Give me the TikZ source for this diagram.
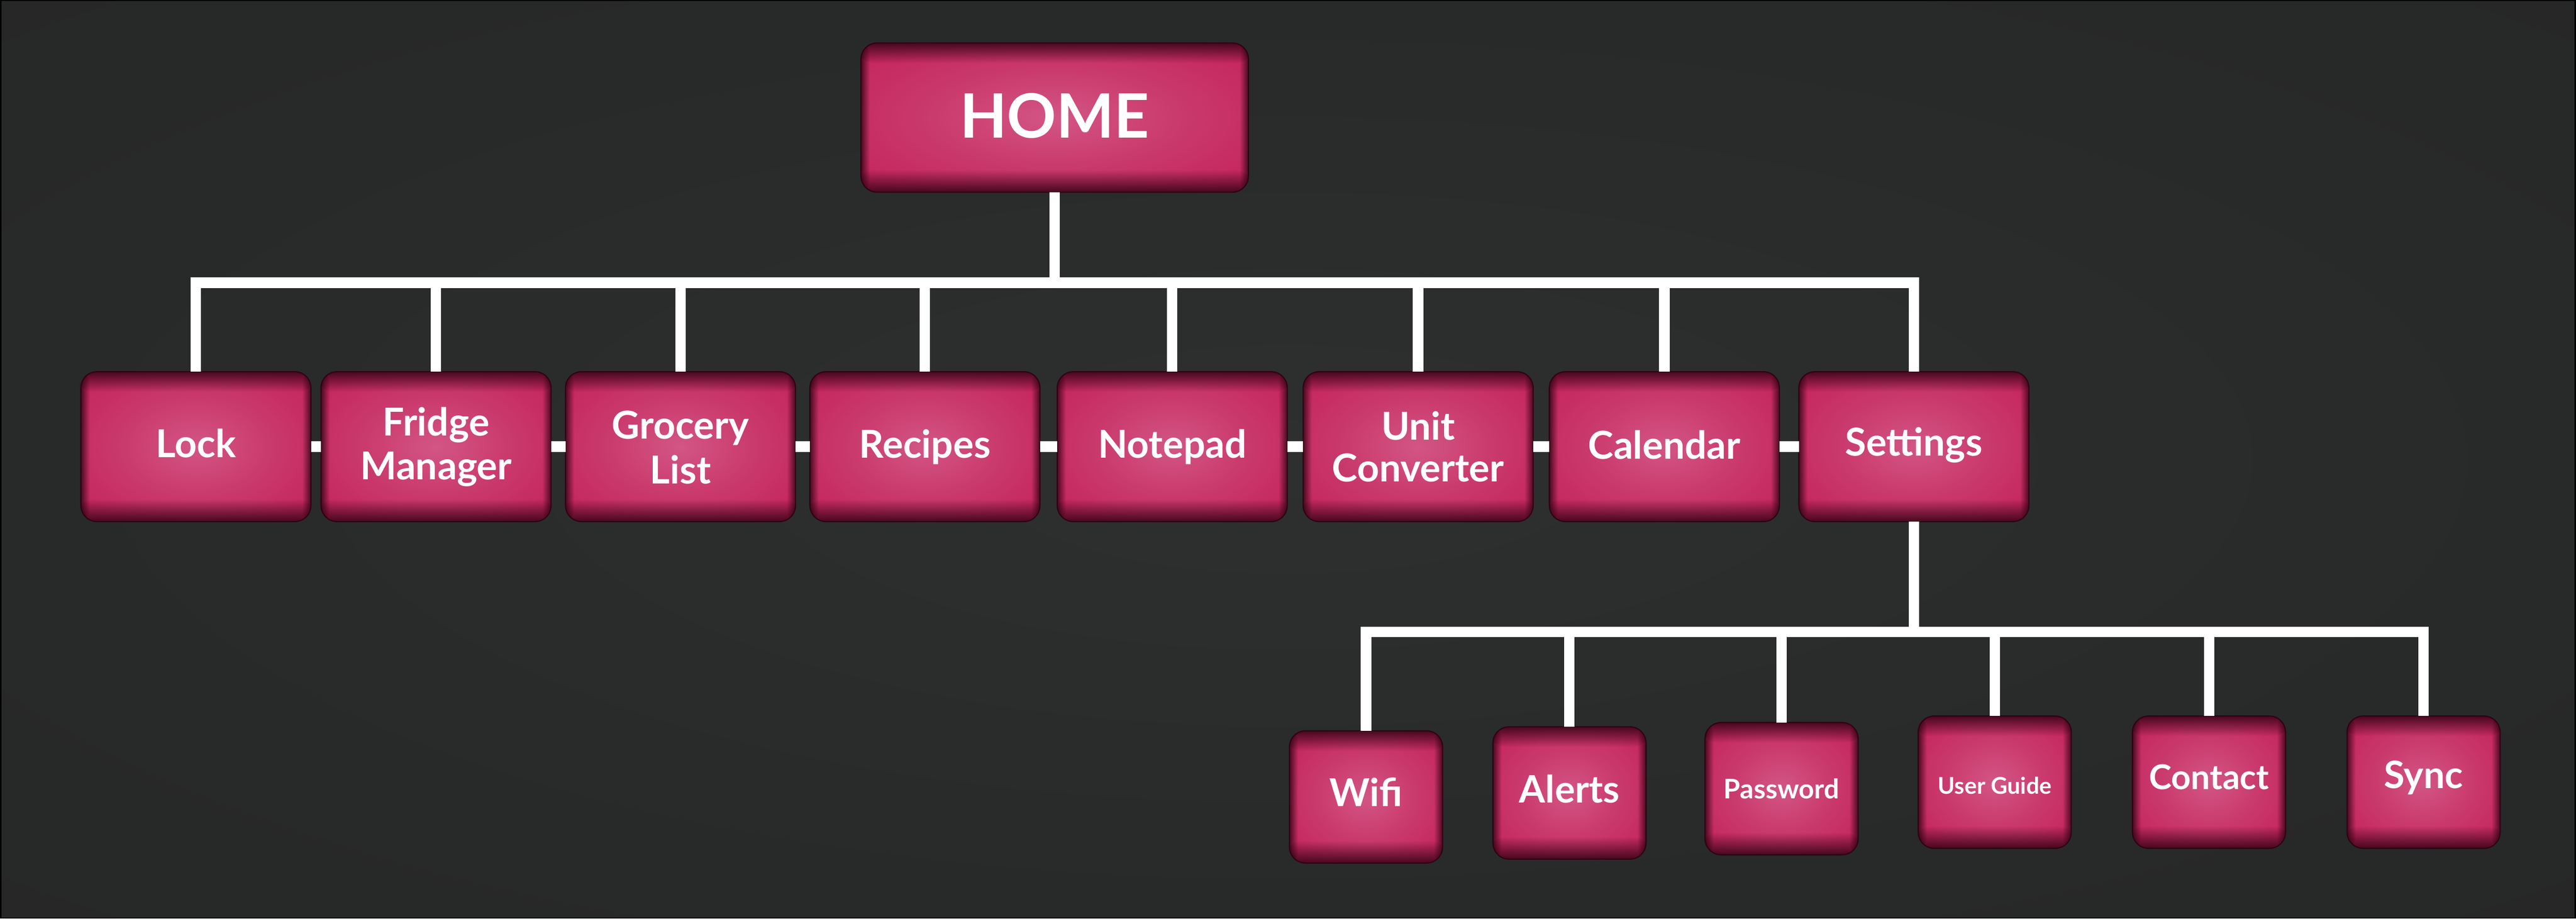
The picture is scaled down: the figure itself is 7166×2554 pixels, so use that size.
\documentclass[tikz,border=0pt]{standalone}
\usepackage{fontspec}
\setmainfont{Lato}
\usetikzlibrary{fadings,calc}

\definecolor{pinkbase}{RGB}{194,30,87}
\definecolor{pinkmid}{RGB}{202,58,108}
\definecolor{pinkhi}{RGB}{210,86,132}
\definecolor{edgecol}{RGB}{45,2,18}
\definecolor{bgin}{RGB}{46,47,47}
\definecolor{bgmid}{RGB}{40,41,41}
\definecolor{bgout}{RGB}{33,33,33}

\pgfdeclareradialshading{boxglow}{\pgfpoint{0bp}{0bp}}{color(0bp)=(pinkhi); color(16bp)=(pinkmid); color(38bp)=(pinkbase); color(50bp)=(pinkbase)}
\pgfdeclareradialshading{bgglow}{\pgfpoint{0bp}{0bp}}{color(0bp)=(bgin); color(25bp)=(bgmid); color(72bp)=(bgout)}

\tikzfading[name=fadetop, top color=transparent!0, bottom color=transparent!100]
\tikzfading[name=fadebot, bottom color=transparent!0, top color=transparent!100]
\tikzfading[name=fadeleft, left color=transparent!0, right color=transparent!100]
\tikzfading[name=faderight, right color=transparent!0, left color=transparent!100]

\newcommand{\txtshift}[2]{\raisebox{#1}[\height][\depth]{#2}}

\tikzset{
  pinkbox/.style={rounded corners=4.5pt, inner sep=0pt, outer sep=0pt,
    shade, shading=boxglow, draw=edgecol, line width=0.3pt,
    text=white, align=center,
    path picture={
      \path (path picture bounding box.north west) coordinate (pnw)
            (path picture bounding box.south east) coordinate (pse);
      \fill[edgecol, path fading=fadetop] ($(pnw)+(-1pt,1.2pt)$) rectangle ($(pse|-pnw)+(1pt,-5.6pt)$);
      \fill[edgecol, path fading=fadebot] ($(pnw|-pse)+(-1pt,-1.2pt)$) rectangle ($(pse)+(1pt,6.2pt)$);
      \fill[edgecol, path fading=fadeleft] ($(pnw)+(-0.6pt,1pt)$) rectangle ($(pnw|-pse)+(2.4pt,-1pt)$);
      \fill[edgecol, path fading=faderight] ($(pse|-pnw)+(0.6pt,1pt)$) rectangle ($(pse)+(-2.4pt,-1pt)$);
    }},
  topbox/.style={pinkbox, minimum width=107.8pt, minimum height=41.5pt,
    font=\bfseries\fontsize{17}{20}\selectfont},
  midbox/.style={pinkbox, minimum width=64pt, minimum height=41.7pt,
    font=\bfseries\fontsize{10.7}{12.2}\selectfont},
  lowbox/.style={pinkbox, minimum width=42.6pt, minimum height=36.8pt,
    font=\bfseries\fontsize{10.7}{12.2}\selectfont},
  conn/.style={draw=white, line width=2.9pt, line join=miter},
}

\begin{document}
\begin{tikzpicture}[x=0.1pt, y=0.1pt]
\useasboundingbox (0,0) rectangle (7166,-2554);
\fill[black] (0,0) rectangle (7166,-2554);
\shade[shading=bgglow] (4,-4) rectangle (7162,-2550);

% top
\node[topbox] (home) at (2934,-327) {\txtshift{0.5pt}{HOME}};

% level 1
\node[midbox] (lock)     at (545,-1242)  {\txtshift{0.9pt}{Lock}};
\node[midbox] (fridge)   at (1213,-1242) {Fridge\\Manager};
\node[midbox] (grocery)  at (1893,-1242) {Grocery\\\txtshift{-0.3pt}{List}};
\node[midbox] (recipes)  at (2573,-1242) {Recipes};
\node[midbox] (notepad)  at (3261,-1242) {Notepad};
\node[midbox] (unit)     at (3945,-1242) {\txtshift{-0.3pt}{Unit}\\\txtshift{0.3pt}{Converter}};
\node[midbox] (calendar) at (4630,-1242) {\txtshift{0.5pt}{Calendar}};
\node[midbox] (settings) at (5324,-1242) {\txtshift{0.4pt}{Settings}};

% level 2
\node[lowbox] (wifi)      at (3800,-2216) {\txtshift{1.4pt}{Wifi}};
\node[lowbox, font=\bfseries\fontsize{10.5}{12}\selectfont] (alerts) at (4366,-2205) {\txtshift{1.2pt}{Alerts}};
\node[lowbox, font=\bfseries\fontsize{7.5}{9}\selectfont] (password) at (4956,-2193) {Password};
\node[lowbox, font=\bfseries\fontsize{6.4}{8}\selectfont] (userguide) at (5549,-2175) {\txtshift{-0.9pt}{User Guide}};
\node[lowbox, font=\bfseries\fontsize{9.5}{11}\selectfont] (contact) at (6145,-2175) {\txtshift{1.4pt}{Contact}};
\node[lowbox, font=\bfseries\fontsize{10.5}{12}\selectfont] (sync) at (6742,-2175) {\txtshift{1.2pt}{Sync}};

\coordinate (bus) at (2934,-786);
\coordinate (sbus) at (5324,-1757);

% connectors top
\draw[conn] (home.south) -- (home.south |- bus);
\draw[conn] (lock.north) -- (lock.north |- bus) -- (settings.north |- bus) -- (settings.north);
\foreach \n in {fridge,grocery,recipes,notepad,unit,calendar}
  \draw[conn] (\n.north) -- (\n.north |- bus);

% side links
\draw[conn] (lock.east) -- (fridge.west);
\draw[conn] (fridge.east) -- (grocery.west);
\draw[conn] (grocery.east) -- (recipes.west);
\draw[conn] (recipes.east) -- (notepad.west);
\draw[conn] (notepad.east) -- (unit.west);
\draw[conn] (unit.east) -- (calendar.west);
\draw[conn] (calendar.east) -- (settings.west);

% settings subtree
\draw[conn] (settings.south) -- (settings.south |- sbus);
\draw[conn] (wifi.north) -- (wifi.north |- sbus) -- (sync.north |- sbus) -- (sync.north);
\foreach \n in {alerts,password,userguide,contact}
  \draw[conn] (\n.north) -- (\n.north |- sbus);
\end{tikzpicture}
\end{document}
